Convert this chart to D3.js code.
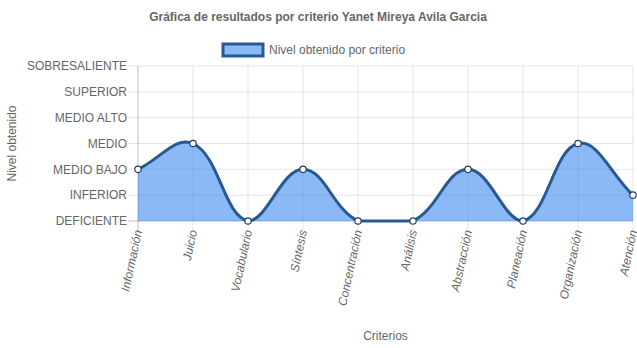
<!DOCTYPE html>
<html><head><meta charset="utf-8">
<script src="https://cdn.jsdelivr.net/npm/d3@7"></script>
<style>body{margin:0;background:#fff}svg{display:block;font-family:"Liberation Sans",Arial,sans-serif}</style>
</head><body>
<svg id="c" width="637" height="348"></svg>
<script>
const categories = ["Información","Juicio","Vocabulario","Síntesis","Concentración","Análisis","Abstracción","Planeación","Organización","Atención"];
const values = [2,3,0,2,0,0,2,0,3,1];
const levelLabels = ["DEFICIENTE","INFERIOR","MEDIO BAJO","MEDIO","MEDIO ALTO","SUPERIOR","SOBRESALIENTE"];
const title = "Gráfica de resultados por criterio Yanet Mireya Avila Garcia";
const seriesName = "Nivel obtenido por criterio";
const xTitle = "Criterios", yTitle = "Nivel obtenido";

const svg = d3.select("#c");
const L = 138, R = 633, T = 66, B = 221;
const x = d3.scalePoint().domain(categories).range([L, R]);
const y = d3.scaleLinear().domain([0, levelLabels.length - 1]).range([B, T]);
const txt = "#666";

// grid
const g = svg.append("g");
levelLabels.forEach((lab, i) => {
  g.append("line").attr("x1", L - 10).attr("x2", R).attr("y1", y(i)).attr("y2", y(i))
    .attr("stroke", i === 0 ? "rgba(0,0,0,0.25)" : "rgba(0,0,0,0.1)");
  g.append("text").attr("x", L - 11).attr("y", y(i)).attr("dy", "0.35em")
    .attr("text-anchor", "end").attr("font-size", 12).attr("fill", txt).text(lab);
});
categories.forEach((c, i) => {
  g.append("line").attr("x1", x(c)).attr("x2", x(c)).attr("y1", T).attr("y2", B + 10)
    .attr("stroke", i === 0 ? "rgba(0,0,0,0.25)" : "rgba(0,0,0,0.1)");
  g.append("text").attr("transform", `translate(${x(c)},${B + 9}) rotate(-78)`)
    .attr("text-anchor", "end").attr("dy", "0.35em").attr("font-size", 12).attr("font-style", "italic")
    .attr("fill", txt).text(c);
});

// Chart.js-like spline
const pts = categories.map((c, i) => [x(c), y(values[i])]);
const t = 0.4;
const ctrl = pts.map((p, i) => {
  const prev = pts[i - 1] || p, next = pts[i + 1] || p;
  const d01 = Math.hypot(p[0] - prev[0], p[1] - prev[1]);
  const d12 = Math.hypot(next[0] - p[0], next[1] - p[1]);
  let s01 = d01 / (d01 + d12), s12 = d12 / (d01 + d12);
  if (isNaN(s01)) s01 = 0; if (isNaN(s12)) s12 = 0;
  const fa = t * s01, fb = t * s12;
  const clampY = v => Math.max(T, Math.min(B, v));
  const clampX = v => Math.max(L, Math.min(R, v));
  return {
    prev: [clampX(p[0] - fa * (next[0] - prev[0])), clampY(p[1] - fa * (next[1] - prev[1]))],
    next: [clampX(p[0] + fb * (next[0] - prev[0])), clampY(p[1] + fb * (next[1] - prev[1]))]
  };
});
function linePath(p) {
  p.moveTo(pts[0][0], pts[0][1]);
  for (let i = 1; i < pts.length; i++) {
    const a = ctrl[i - 1].next, b = ctrl[i].prev;
    p.bezierCurveTo(a[0], a[1], b[0], b[1], pts[i][0], pts[i][1]);
  }
  return p;
}
const area = linePath(d3.path());
area.lineTo(pts[pts.length - 1][0], y(0));
area.lineTo(pts[0][0], y(0));
area.closePath();
svg.append("path").attr("d", area.toString()).attr("fill", "rgba(21,116,235,0.5)");
svg.append("path").attr("d", linePath(d3.path()).toString()).attr("fill", "none")
  .attr("stroke", "#285a90").attr("stroke-width", 3);
svg.selectAll("circle.pt").data(pts).join("circle").attr("class", "pt")
  .attr("cx", d => d[0]).attr("cy", d => d[1]).attr("r", 3.2)
  .attr("fill", "#fff").attr("stroke", "#1f3f66").attr("stroke-width", 1.2);

// title & legend
svg.append("text").attr("x", 318).attr("y", 21).attr("text-anchor", "middle")
  .attr("font-size", 12).attr("font-weight", "bold").attr("fill", txt).text(title);
svg.append("rect").attr("x", 223).attr("y", 44).attr("width", 40).attr("height", 12)
  .attr("fill", "rgba(21,116,235,0.5)").attr("stroke", "#285a90").attr("stroke-width", 3);
svg.append("text").attr("x", 269).attr("y", 50).attr("dy", "0.35em").attr("font-size", 12)
  .attr("fill", txt).text(seriesName);
svg.append("text").attr("x", (L + R) / 2).attr("y", 340).attr("text-anchor", "middle")
  .attr("font-size", 12).attr("fill", txt).text(xTitle);
svg.append("text").attr("transform", `translate(16,${(T + B) / 2}) rotate(-90)`)
  .attr("text-anchor", "middle").attr("font-size", 12).attr("fill", txt).text(yTitle);
</script>
</body></html>
